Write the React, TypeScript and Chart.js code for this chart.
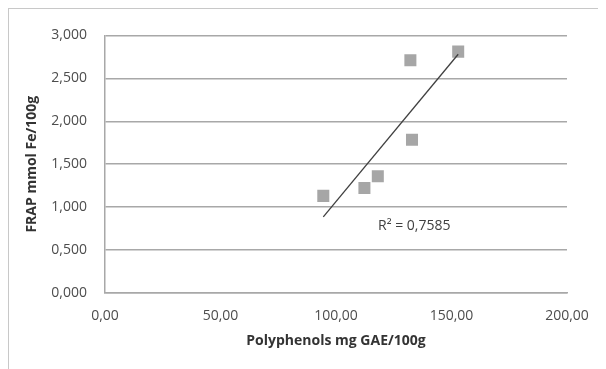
import React, { useEffect, useRef } from "react";
import { Chart, registerables } from "chart.js";

Chart.register(...registerables);

// Data
const polyphenols = [94.5, 112.3, 118.1, 132.2, 132.9, 152.9];
const frap = [1.131, 1.224, 1.361, 2.711, 1.785, 2.811];
const xTicks = [0, 50, 100, 150, 200];
const yTicks = [0, 0.5, 1, 1.5, 2, 2.5, 3];
const r2Text = "R\u00B2 = 0,7585";
const r2Anchor = [118.2, 0.784];
const xTitle = "Polyphenols mg GAE/100g";
const yTitle = "FRAP mmol Fe/100g";

function linearFit(xs: number[], ys: number[]) {
  const n = xs.length;
  const mx = xs.reduce((a, b) => a + b, 0) / n;
  const my = ys.reduce((a, b) => a + b, 0) / n;
  let sxy = 0;
  let sxx = 0;
  for (let i = 0; i < n; i++) {
    sxy += (xs[i] - mx) * (ys[i] - my);
    sxx += (xs[i] - mx) * (xs[i] - mx);
  }
  const slope = sxy / sxx;
  return { slope, intercept: my - slope * mx };
}

const fmt = (v: number, d: number) => v.toFixed(d).replace(".", ",");

export default function App() {
  const ref = useRef<HTMLCanvasElement | null>(null);

  useEffect(() => {
    if (!ref.current) return;
    const fit = linearFit(polyphenols, frap);
    const minX = Math.min(...polyphenols);
    const maxX = Math.max(...polyphenols);
    const trend = [
      { x: minX, y: fit.slope * minX + fit.intercept },
      { x: maxX, y: fit.slope * maxX + fit.intercept },
    ];
    const points = polyphenols.map((x, i) => ({ x, y: frap[i] }));

    const r2Plugin = {
      id: "r2label",
      afterDatasetsDraw(chart: any) {
        const { ctx, scales } = chart;
        const px = scales.x.getPixelForValue(r2Anchor[0]);
        const py = scales.y.getPixelForValue(r2Anchor[1]);
        ctx.save();
        ctx.font = "14px 'Open Sans'";
        ctx.fillStyle = "#404040";
        ctx.textAlign = "left";
        ctx.textBaseline = "middle";
        ctx.fillText(r2Text, px, py);
        ctx.restore();
      },
    };

    const gridColor = "#a8a8a8";
    const chart = new Chart(ref.current, {
      type: "scatter",
      data: {
        datasets: [
          {
            type: "line",
            data: trend,
            borderColor: "#404040",
            borderWidth: 1.3,
            pointRadius: 0,
            fill: false,
            order: 0,
          } as any,
          {
            data: points,
            pointStyle: "rect",
            pointRadius: 8.5,
            pointBackgroundColor: "#a6a6a6",
            pointBorderWidth: 0,
            order: 1,
          },
        ],
      },
      options: {
        animation: false,
        responsive: false,
        layout: { padding: { left: 0, right: 38, top: 16, bottom: 0 } },
        plugins: {
          legend: { display: false },
          tooltip: { enabled: false },
        },
        scales: {
          x: {
            type: "linear",
            min: 0,
            max: 200,
            afterBuildTicks: (s: any) => {
              s.ticks = xTicks.map((v) => ({ value: v }));
            },
            afterFit: (s: any) => {
              s.height = 76;
            },
            grid: { display: false, drawTicks: false },
            border: { display: true, color: gridColor, width: 1.5 },
            ticks: {
              padding: 15,
              color: "#4d4d4d",
              font: { size: 14, family: "'Open Sans'" },
              callback: (v: any) => fmt(Number(v), 2),
            },
            title: {
              display: true,
              text: xTitle,
              color: "#333333",
              font: { size: 14, weight: "bold", family: "'Open Sans'" },
              padding: { top: 0, bottom: 20 },
            },
          },
          y: {
            type: "linear",
            min: 0,
            max: 3,
            afterBuildTicks: (s: any) => {
              s.ticks = yTicks.map((v) => ({ value: v }));
            },
            afterFit: (s: any) => {
              s.width = 96;
            },
            grid: { color: gridColor, lineWidth: 1.5, drawTicks: false },
            border: { display: true, color: gridColor, width: 1.5 },
            ticks: {
              padding: 18,
              color: "#4d4d4d",
              font: { size: 14, family: "'Open Sans'" },
              callback: (v: any) => fmt(Number(v), 3),
            },
            title: {
              display: true,
              text: yTitle,
              color: "#333333",
              font: { size: 14, weight: "bold", family: "'Open Sans'" },
              padding: { top: 15, bottom: 0 },
            },
          },
        },
      },
      plugins: [r2Plugin],
    } as any);
    return () => chart.destroy();
  }, []);

  return (
    <div
      style={{
        width: 596,
        height: 360,
        borderTop: "1px solid #c8c8c8",
        borderLeft: "1px solid #c8c8c8",
        borderRight: "1px solid #c8c8c8",
        background: "#ffffff",
      }}
    >
      <canvas ref={ref} width={596} height={360} style={{ display: "block" }} />
    </div>
  );
}
